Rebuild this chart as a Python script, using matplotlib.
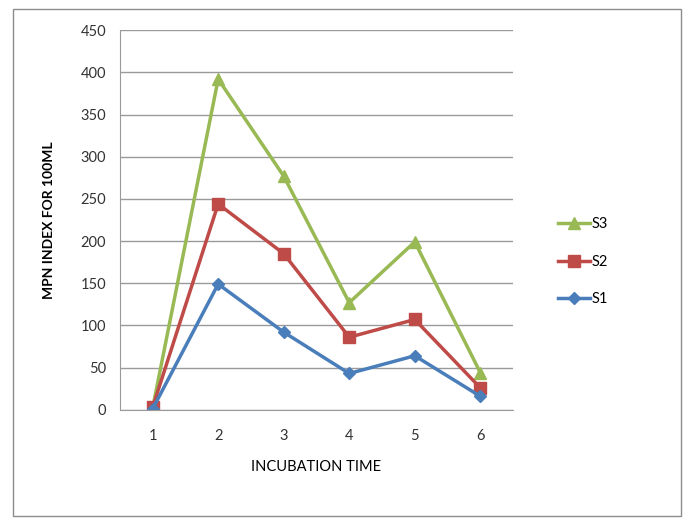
import matplotlib.pyplot as plt
import matplotlib
from matplotlib.patches import Rectangle

matplotlib.rcParams['font.family'] = ['Lato', 'DejaVu Sans']
matplotlib.rcParams['font.size'] = 10

# data
times = [1, 2, 3, 4, 5, 6]
s1 = [1, 149, 92, 43, 64, 16]
s2 = [3, 244, 185, 86, 107, 26]
s3 = [2, 392, 277, 127, 199, 44]

fig = plt.figure(figsize=(6.85, 5.2), dpi=100)
ax = fig.add_axes([0.175, 0.212, 0.574, 0.73])

# outer chart frame
fig.patches.append(Rectangle((0.019, 0.008), 0.975, 0.975, transform=fig.transFigure,
                             fill=False, edgecolor='#8c8c8c', linewidth=1))

x = range(len(times))
ax.plot(x, s3, color='#98B954', marker='^', markersize=8, linewidth=2.5, label='S3')
ax.plot(x, s2, color='#BE4B48', marker='s', markersize=8, linewidth=2.5, label='S2')
ax.plot(x, s1, color='#4A7EBB', marker='D', markersize=6, linewidth=2.5, label='S1')

ax.set_xlim(-0.5, len(times) - 0.5)
ax.set_ylim(0, 450)
ax.set_yticks(range(0, 451, 50))
ax.set_xticks(list(x))
ax.set_xticklabels([str(t) for t in times])
ax.grid(axis='y', color='#9a9a9a', linewidth=1)
ax.set_axisbelow(True)
for side in ['top', 'right']:
    ax.spines[side].set_visible(False)
ax.spines['left'].set_color('#9a9a9a')
ax.spines['bottom'].set_color('#9a9a9a')
ax.tick_params(axis='both', length=0, colors='#333333', labelsize=10.5)
ax.tick_params(axis='x', pad=14)
ax.tick_params(axis='y', pad=10)

ax.set_ylabel('MPN INDEX FOR 100ML', fontsize=10, fontweight='bold', labelpad=18)
ax.set_xlabel('INCUBATION TIME', fontsize=10.5, labelpad=12)

ax.legend(loc='center left', bbox_to_anchor=(1.08, 0.39), frameon=False,
          handlelength=2.2, handletextpad=0.1, labelspacing=1.6, fontsize=10.5)

fig.savefig('out.png')
